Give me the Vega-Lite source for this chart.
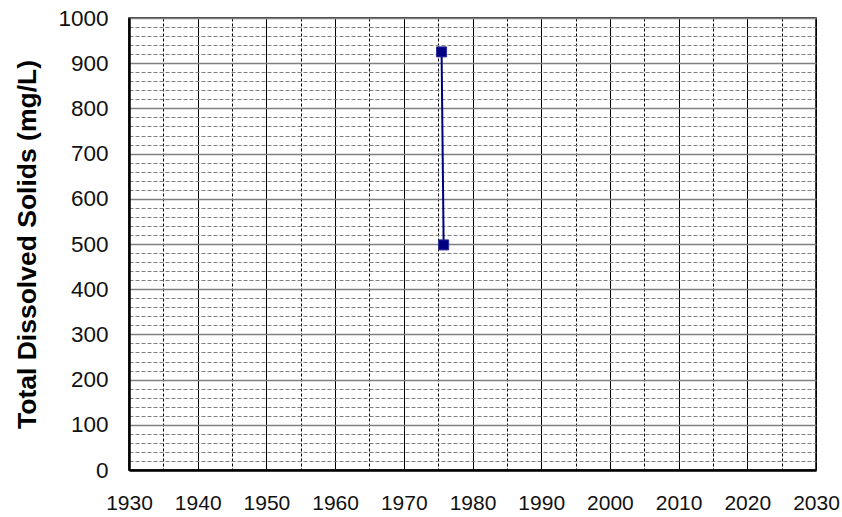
{
  "$schema": "https://vega.github.io/schema/vega-lite/v6.json",
  "autosize": {"type": "none"},
  "width": 687,
  "height": 452,
  "padding": {"left": 129, "top": 18, "right": 26, "bottom": 47},
  "background": "white",
  "config": {
    "view": {"stroke": "black", "strokeWidth": 1.5},
    "font": "Liberation Sans"
  },
  "data": {
    "values": [
      {"year": 1975.5, "tds": 925},
      {"year": 1975.8, "tds": 498}
    ]
  },
  "encoding": {
    "x": {
      "field": "year",
      "type": "quantitative",
      "scale": {"domain": [1930, 2030], "nice": false, "zero": false},
      "axis": {
        "title": null,
        "values": [1930,1935,1940,1945,1950,1955,1960,1965,1970,1975,1980,1985,1990,1995,2000,2005,2010,2015,2020,2025,2030],
        "labelExpr": "datum.value % 10 === 0 ? format(datum.value, 'd') : ''",
        "labelFont": "Liberation Sans",
        "labelFontSize": 21,
        "labelColor": "#111111",
        "labelPadding": 22,
        "labelFlush": false,
        "labelOverlap": false,
        "ticks": false,
        "tickSize": 0,
        "domainColor": "black",
        "domainWidth": 2.5,
        "grid": true,
        "gridColor": "black",
        "gridOpacity": 1,
        "gridWidth": 1,
        "gridDash": {"condition": {"test": "datum.value % 10 !== 0", "value": [3, 2]}, "value": []}
      }
    },
    "y": {
      "field": "tds",
      "type": "quantitative",
      "scale": {"domain": [0, 1000], "nice": false},
      "axis": {
        "title": "Total Dissolved Solids (mg/L)",
        "titleFont": "Liberation Sans",
        "titleFontSize": 26.5,
        "titleFontWeight": "bold",
        "titleColor": "black",
        "titleAngle": 270,
        "titleAlign": "center",
        "titleBaseline": "middle",
        "titleX": -102,
        "titleY": 226,
        "values": [0,20,40,60,80,100,120,140,160,180,200,220,240,260,280,300,320,340,360,380,400,420,440,460,480,500,520,540,560,580,600,620,640,660,680,700,720,740,760,780,800,820,840,860,880,900,920,940,960,980,1000],
        "labelExpr": "datum.value % 100 === 0 ? format(datum.value, 'd') : ''",
        "labelFont": "Liberation Sans",
        "labelFontSize": 22.5,
        "labelColor": "#111111",
        "labelPadding": 21,
        "labelFlush": false,
        "labelOverlap": false,
        "ticks": false,
        "tickSize": 0,
        "domainColor": "black",
        "domainWidth": 2.5,
        "grid": true,
        "gridOpacity": 1,
        "gridColor": "#808080",
        "gridWidth": {"condition": {"test": "datum.value % 100 !== 0", "value": 1}, "value": 1.5},
        "gridDash": {"condition": {"test": "datum.value % 100 !== 0", "value": [4, 2]}, "value": []}
      }
    }
  },
  "layer": [
    {
      "mark": {"type": "line", "color": "#000080", "strokeWidth": 2}
    },
    {
      "mark": {"type": "point", "shape": "square", "filled": true, "size": 100, "color": "#000080", "opacity": 1, "stroke": "#2a2a9a", "strokeWidth": 1}
    }
  ]
}
